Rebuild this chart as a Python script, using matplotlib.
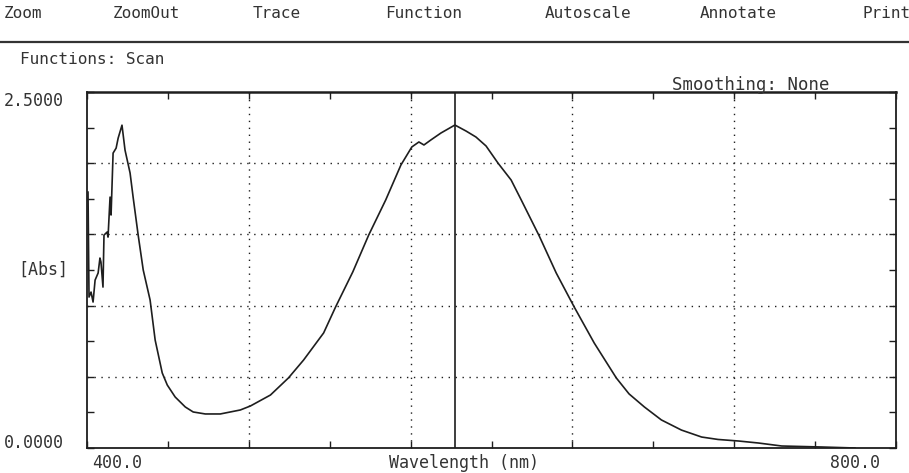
import matplotlib
matplotlib.use("Agg")
import matplotlib.pyplot as plt
from matplotlib.lines import Line2D

# scan data: wavelength (nm) and absorbance
wavelength = [400.5, 401.0, 402.0, 403.0, 404.0, 405.5, 406.4, 406.9, 407.9, 408.4,
              409.9, 410.4, 411.4, 411.9, 412.9, 414.4, 415.4, 417.3, 418.8, 421.3,
              422.8, 425.3, 427.8, 431.2, 433.7, 437.2, 439.7, 443.6, 448.6, 452.5,
              458.5, 465.9, 475.8, 480.8, 490.7, 499.6, 507.1, 517.0, 522.9, 531.4,
              539.3, 547.7, 555.2, 560.6, 564.1, 566.6, 570.0, 575.0, 581.9, 587.4,
              592.3, 597.3, 603.2, 609.7, 614.7, 623.6, 632.0, 640.9, 650.8, 661.7,
              668.0, 675.6, 684.0, 693.9, 703.9, 712.0, 722.2, 732.0, 743.5, 763.3,
              779.7]
absorbance = [1.797, 1.060, 1.095, 1.025, 1.179, 1.229, 1.334, 1.306, 1.130, 1.495,
              1.516, 1.481, 1.762, 1.636, 2.071, 2.106, 2.176, 2.267, 2.092, 1.931,
              1.762, 1.495, 1.250, 1.039, 0.758, 0.527, 0.442, 0.358, 0.288, 0.253,
              0.239, 0.239, 0.267, 0.295, 0.372, 0.492, 0.618, 0.808, 0.990, 1.236,
              1.496, 1.742, 1.987, 2.114, 2.149, 2.128, 2.163, 2.212, 2.268, 2.226,
              2.184, 2.121, 2.001, 1.882, 1.742, 1.489, 1.229, 0.990, 0.737, 0.492,
              0.380, 0.288, 0.197, 0.126, 0.077, 0.060, 0.049, 0.035, 0.014, 0.007,
              0.0]
cursor_nm = 582
menu = ["Zoom", "ZoomOut", "Trace", "Function", "Autoscale", "Annotate", "Print"]
menu_x = [4, 113, 253, 385, 545, 700, 862]

ink = "#1e1e1e"
txt = "#333333"
mono = "DejaVu Sans Mono"

fig = plt.figure(figsize=(9.09, 4.73), dpi=100)
W, H = 909.0, 473.0
ax = fig.add_axes([87 / W, 1 - 448 / H, 809 / W, 356 / H])

ax.plot(wavelength, absorbance, color=ink, lw=1.2)
ax.axvline(cursor_nm, color=ink, lw=1.2)

ax.set_xlim(400, 800)
ax.set_ylim(0, 2.5)
ax.set_xticks(range(400, 801, 40))
ax.set_yticks([i * 0.25 for i in range(11)])
ax.tick_params(direction="in", length=5, width=1, colors=ink,
               top=True, right=True, labelbottom=False, labelleft=False)
for v in [480, 560, 640, 720]:
    ax.axvline(v, color=ink, lw=1, linestyle=(0, (1, 4)))
for v in [0.5, 1.0, 1.5, 2.0]:
    ax.axhline(v, color=ink, lw=1, linestyle=(0, (1, 4)))
for s in ax.spines.values():
    s.set_color(ink)
    s.set_linewidth(1.3)
ax.spines["top"].set_linewidth(1.8)

# menu bar
for name, x in zip(menu, menu_x):
    fig.text(x / W, 1 - 14 / H, name, family=mono, fontsize=11.5, color=txt,
             ha="left", va="center")
fig.add_artist(Line2D([0, 1], [1 - 42 / H, 1 - 42 / H], color=txt, lw=1.6))

fig.text(20 / W, 1 - 60 / H, "Functions: Scan", family=mono, fontsize=11.5,
         color=txt, ha="left", va="center")
fig.text(672 / W, 1 - 85 / H, "Smoothing: None", family=mono, fontsize=12.5,
         color=txt, ha="left", va="center")

fig.text(64 / W, 1 - 101 / H, "2.5000", family=mono, fontsize=12, color=txt,
         ha="right", va="center")
fig.text(64 / W, 1 - 443 / H, "0.0000", family=mono, fontsize=12, color=txt,
         ha="right", va="center")
fig.text(18 / W, 1 - 270 / H, "[Abs]", family=mono, fontsize=12, color=txt,
         ha="left", va="center")
fig.text(92 / W, 1 - 463 / H, "400.0", family=mono, fontsize=12, color=txt,
         ha="left", va="center")
fig.text(880 / W, 1 - 463 / H, "800.0", family=mono, fontsize=12, color=txt,
         ha="right", va="center")
fig.text(464 / W, 1 - 463 / H, "Wavelength (nm)", family=mono, fontsize=12,
         color=txt, ha="center", va="center")

fig.savefig("out.png", dpi=100, facecolor="white")
